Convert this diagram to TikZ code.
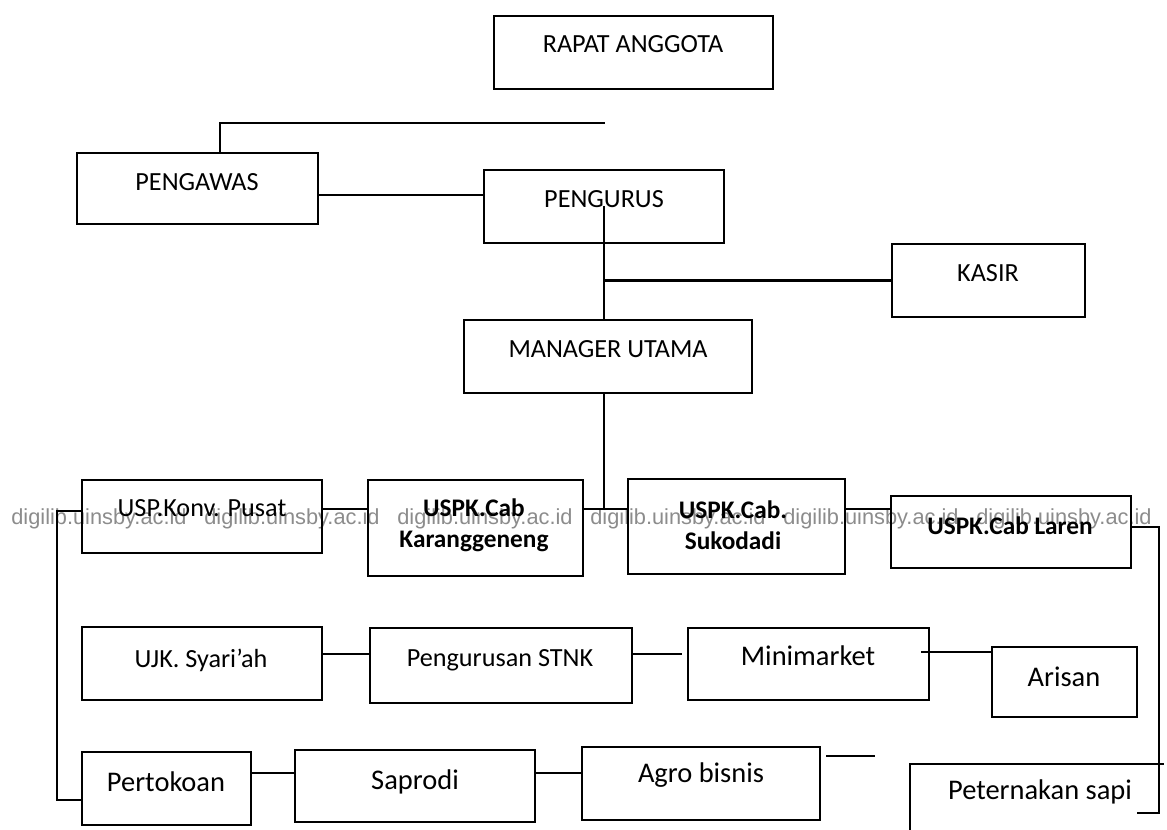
\documentclass[tikz,border=0pt]{standalone}
\usepackage{fontspec}
\setmainfont{Carlito}
\newfontfamily\wmfont{Liberation Sans}
\usetikzlibrary{fit,calc}

\begin{document}
\begin{tikzpicture}[
        x=0.02cm, y=-0.02cm,
        block/.style={draw, line width=1.3pt, inner sep=0pt, fit={#1}},
        txt/.style={font=\fontsize{14.9}{18}\selectfont, inner sep=0pt, align=center},
        boldtxt/.style={font=\bfseries\fontsize{14.4}{17.6}\selectfont, inner sep=0pt, align=center},
        bigtxt/.style={font=\fontsize{16.2}{19}\selectfont, inner sep=0pt, align=center},
        conn/.style={line width=1.3pt},
        wm/.style={font=\wmfont\fontsize{12.4}{14}\selectfont, text=black!45, inner sep=0pt}
    ]
        \fill[white] (0,0) rectangle (1167,830);
        \useasboundingbox (0,0) rectangle (1167,830);
        \clip (0,0) rectangle (1167,830);

        % Watermark
        \foreach \i in {0,...,5}
            \node[wm, anchor=base west] (wm\i) at (11+193*\i, 525) {digilib.uinsby.ac.id};

        % Top
        \node[block={(494,16) (773,89)}] (rapat) {};
        \node[txt] (rapatText) at (633,44) {RAPAT ANGGOTA};

        \node[block={(77,153) (318,224)}] (pengawas) {};
        \node[txt] (pengawasText) at (197,182) {PENGAWAS};

        \node[block={(484,170) (724,243)}] (pengurus) {};
        \node[txt] (pengurusText) at (604,199) {PENGURUS};

        \node[block={(892,244) (1085,317)}] (kasir) {};
        \node[txt] (kasirText) at (988,273) {KASIR};

        \node[block={(464,320) (752,393)}] (manager) {};
        \node[txt] (managerText) at (608,349) {MANAGER UTAMA};

        % Units
        \node[block={(82,480) (322,553)}] (usp) {};
        \node[txt] (uspText) at (202,508) {USP.Konv. Pusat};

        \node[block={(368,480) (583,576)}] (kar) {};
        \node[boldtxt] (karText) at (474,525) {USPK.Cab\\Karanggeneng};

        \node[block={(628,479) (845,574)}] (suk) {};
        \node[boldtxt] (sukText) at (733,525) {USPK.Cab.\\Sukodadi};

        \node[block={(891,496) (1131,568)}] (laren) {};
        \node[boldtxt] (larenText) at (1010,526) {USPK.Cab Laren};

        % Business
        \node[block={(82,627) (322,700)}] (ujk) {};
        \node[txt] (ujkText) at (201,660) {UJK. Syari’ah};

        \node[block={(370,628) (632,703)}] (stnk) {};
        \node[txt] (stnkText) at (500,660) {Pengurusan STNK};

        \node[block={(688,628) (929,700)}] (minimarket) {};
        \node[bigtxt] (minimarketText) at (808,656) {Minimarket};

        \node[block={(992,647) (1137,717)}] (arisan) {};
        \node[bigtxt] (arisanText) at (1064,677) {Arisan};

        \node[block={(82,752) (251,825)}] (pertokoan) {};
        \node[bigtxt] (pertokoanText) at (166,782) {Pertokoan};

        \node[block={(295,750) (535,822)}] (saprodi) {};
        \node[bigtxt] (saprodiText) at (415,782) {Saprodi};

        \node[block={(582,747) (820,820)}] (agro) {};
        \node[bigtxt] (agroText) at (701,775) {Agro bisnis};

        \node[block={(911,765) (1159,870)}, draw=none] (sapi) {};
        \node[bigtxt] (sapiText) at (1040,792) {Peternakan sapi};
        \draw[conn] (sapi.south west) |- ([xshift=0.08cm]sapi.north east);

        % Helper points
        \coordinate (topTurn) at (220,123);
        \coordinate (topEnd) at (605,123);
        \coordinate (rowP) at (0,195);
        \coordinate (hub) at (604,509);
        \coordinate (busTop) at (57,511);
        \coordinate (busBot) at (57,800);
        \coordinate (rbusTop) at (1159,527);
        \coordinate (rbusEnd) at (1137,813);
        \coordinate (rowB) at (0,654);
        \coordinate (rowB2) at (0,652);
        \coordinate (rowC) at (0,773);
        \coordinate (agroEnd) at (875,756);

        % Connectors
        \draw[conn] (topTurn |- pengawas.north) -- (topTurn) -- (topEnd);
        \draw[conn] (rowP -| pengawas.east) -- (rowP -| pengurus.west);
        \draw[conn] (pengurus.center) -- (pengurus.center |- manager.north);
        \draw[conn] (kasir.west) -- (kasir.west -| pengurus.center);
        \draw[conn] (manager.south -| hub) -- (hub);

        \draw[conn] (hub -| usp.east) -- (hub -| kar.west);
        \draw[conn] (hub -| kar.east) -- (hub -| suk.west);
        \draw[conn] (hub -| suk.east) -- (hub -| laren.west);
        \draw[conn] (busTop -| usp.west) -- (busTop) -- (busBot) -- (busBot -| pertokoan.west);
        \draw[conn] (rbusTop -| laren.east) -- (rbusTop) |- (rbusEnd);

        \draw[conn] (rowB -| ujk.east) -- (rowB -| stnk.west);
        \draw[conn] (rowB -| stnk.east) -- ([xshift=-0.1cm]rowB -| minimarket.west);
        \draw[conn] ([xshift=-0.18cm]rowB2 -| minimarket.east) -- (rowB2 -| arisan.west);

        \draw[conn] (rowC -| pertokoan.east) -- (rowC -| saprodi.west);
        \draw[conn] (rowC -| saprodi.east) -- (rowC -| agro.west);
        \draw[conn] ([xshift=0.1cm]agroEnd -| agro.east) -- (agroEnd);
    \end{tikzpicture}
\end{document}
